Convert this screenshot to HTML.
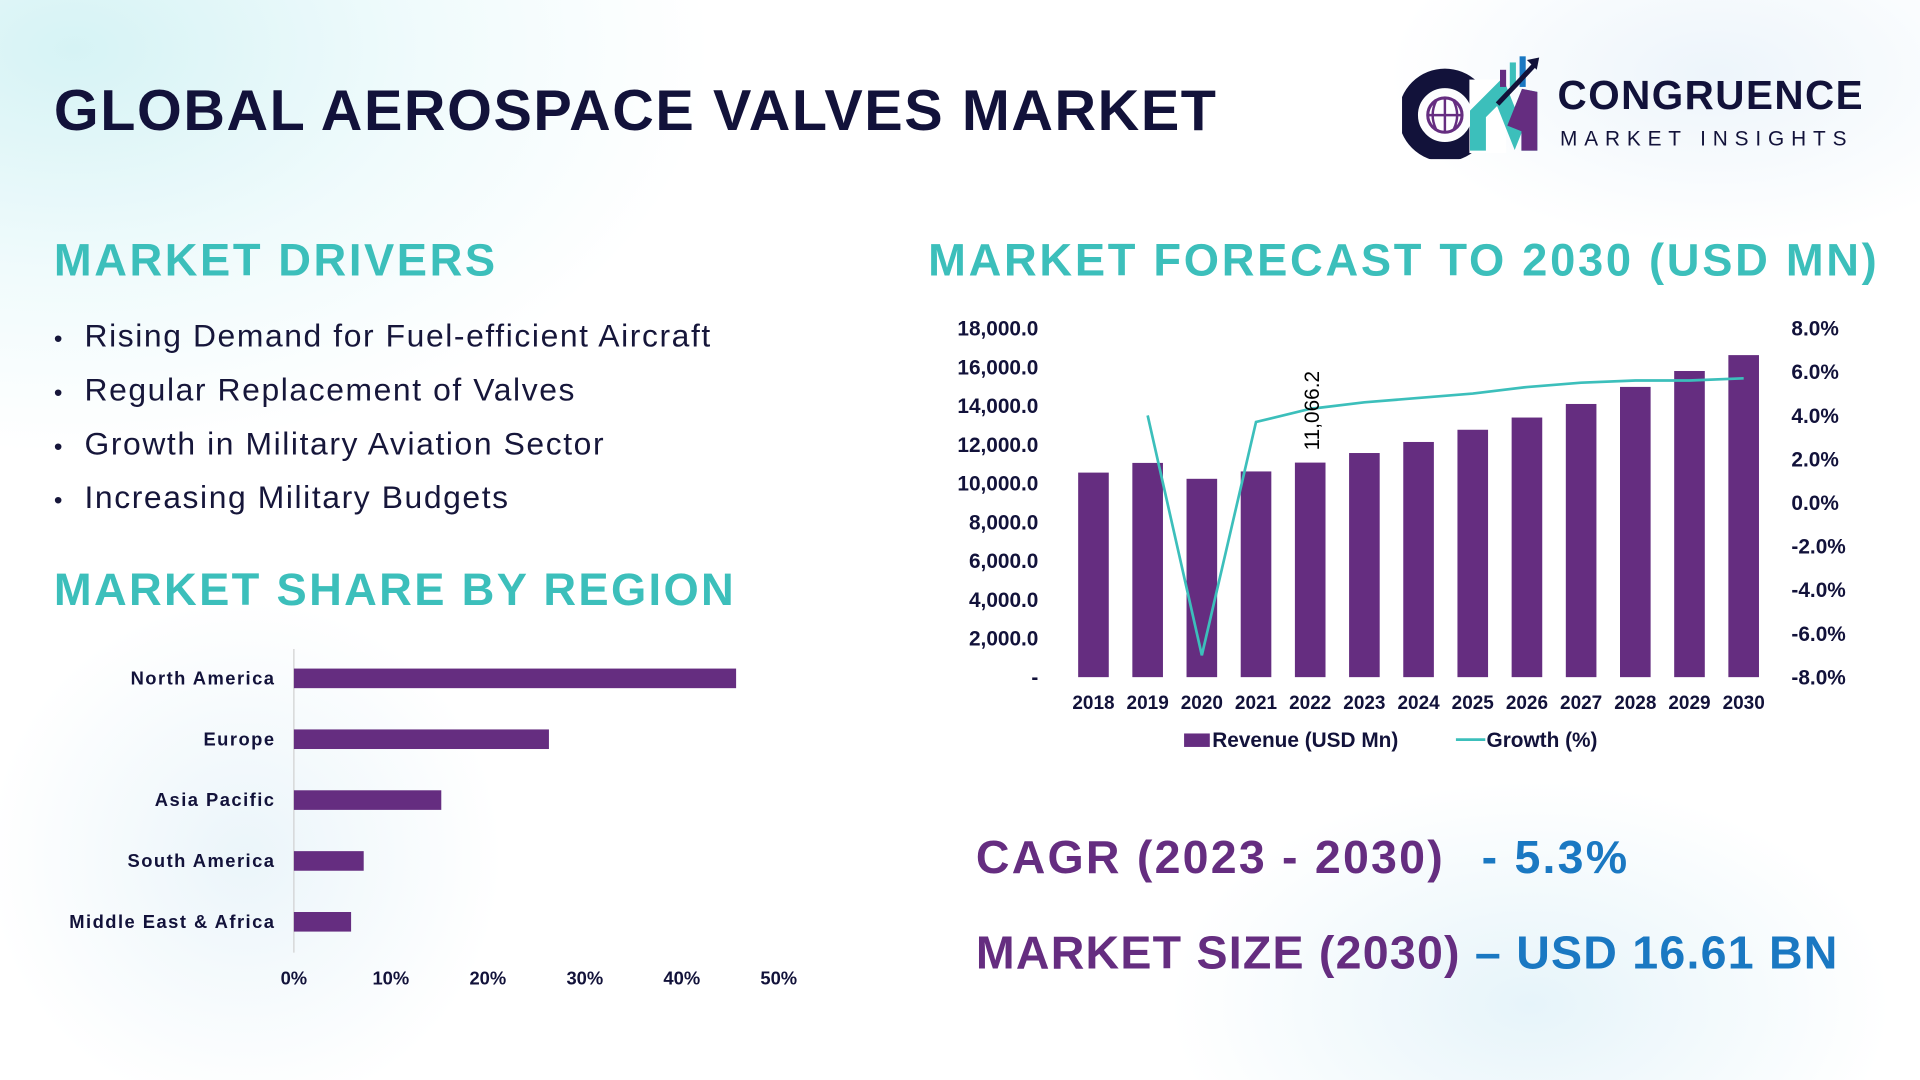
<!DOCTYPE html>
<html><head><meta charset="utf-8"><style>
html,body{margin:0;padding:0;width:1920px;height:1080px;overflow:hidden;background:#fff}
#wrap{position:absolute;left:0;top:0;width:1568px;height:882px;transform:scale(1.22449);transform-origin:0 0;font-family:"Liberation Sans",sans-serif;
background:radial-gradient(ellipse 520px 330px at 60px 40px,#d6f3f5 0%,rgba(230,248,250,0.6) 55%,rgba(255,255,255,0) 100%),
radial-gradient(ellipse 300px 300px at 200px 700px,rgba(215,235,245,0.5),rgba(255,255,255,0) 70%),
radial-gradient(ellipse 420px 260px at 1250px 820px,rgba(210,235,245,0.55),rgba(255,255,255,0) 70%),
radial-gradient(ellipse 380px 200px at 1400px 60px,rgba(225,238,248,0.6),rgba(255,255,255,0) 70%),#fff}
.abs{position:absolute}
h1{position:absolute;left:44px;top:62px;margin:0;font-size:47px;font-weight:900;color:#12123a;letter-spacing:1.3px}
.h2{position:absolute;margin:0;font-size:37px;font-weight:700;color:#3cbfbb;white-space:nowrap}
ul{position:absolute;left:44px;top:252px;margin:0;padding:0;list-style:none}
li{font-size:26px;color:#16163a;height:44px;line-height:44px;white-space:nowrap;letter-spacing:1.3px}
li:before{content:"•";display:inline-block;width:25px;font-size:20px}
.big{position:absolute;font-size:38px;font-weight:700;white-space:nowrap}
</style></head><body>
<div id="wrap">
<h1>GLOBAL AEROSPACE VALVES MARKET</h1>

<div class="abs" style="left:1145px;top:45px;width:380px;height:85px">
<svg width="130" height="85">
<circle cx="35" cy="49" r="30" fill="none" stroke="#12123a" stroke-width="16"/>
<rect x="55" y="20" width="30" height="60" fill="#fff"/>
<circle cx="35" cy="49" r="14" fill="none" stroke="#652d80" stroke-width="2.5"/>
<path d="M21 49h28M35 35v28M28 37q-6 12 0 24M42 37q6 12 0 24" stroke="#652d80" stroke-width="2" fill="none"/>
<path d="M62 78 L62 48 L80 30 L92 60 L104 30 L104 78" fill="none" stroke="#3cbfbb" stroke-width="13"/>
<path d="M92 60 L104 30 L104 78" fill="none" stroke="#652d80" stroke-width="13"/>
<rect x="80" y="12" width="5" height="14" fill="#652d80"/><rect x="88" y="6" width="5" height="20" fill="#3cbfbb"/><rect x="96" y="1" width="5" height="25" fill="#1a78c2"/>
<path d="M78 40 L95 22 L108 8" stroke="#12123a" stroke-width="4" fill="none"/><path d="M102 4 L112 2 L110 12 Z" fill="#12123a"/>
</svg>
<div class="abs" style="left:127px;top:14px;font-size:33px;font-weight:900;color:#12123a;letter-spacing:1.2px">CONGRUENCE</div>
<div class="abs" style="left:129px;top:59px;font-size:17px;letter-spacing:5.6px;color:#12123a">MARKET INSIGHTS</div>
</div>

<div class="h2" style="left:44px;top:192px;letter-spacing:2.1px">MARKET DRIVERS</div>
<ul>
<li>Rising Demand for Fuel-efficient Aircraft</li>
<li>Regular Replacement of Valves</li>
<li>Growth in Military Aviation Sector</li>
<li>Increasing Military Budgets</li>
</ul>
<div class="h2" style="left:44px;top:461px;letter-spacing:1.9px">MARKET SHARE BY REGION</div>
<div class="h2" style="left:758px;top:192px;letter-spacing:2.2px">MARKET FORECAST TO 2030 (USD MN)</div>

<svg id="reg" class="abs" style="left:0;top:0" width="700" height="882"></svg>
<svg id="fc" class="abs" style="left:0;top:0" width="1568" height="640"></svg>

<div class="big" style="left:797px;top:680px;color:#652d80;letter-spacing:1.8px">CAGR (2023 - 2030)<span style="display:inline-block;width:30px"></span><span style="color:#1a78c2">- 5.3%</span></div>
<div class="big" style="left:797px;top:758px;color:#652d80;letter-spacing:1px">MARKET SIZE (2030) <span style="color:#1a78c2">– USD 16.61 BN</span></div>
</div>
<script>
const regions=["North America","Europe","Asia Pacific","South America","Middle East & Africa"];
const shares=[45.6,26.3,15.2,7.2,5.9];
const shareTicks=[0,10,20,30,40,50];
const years=["2018","2019","2020","2021","2022","2023","2024","2025","2026","2027","2028","2029","2030"];
const revenue=[10550,11050,10230,10610,11066.2,11560,12130,12760,13390,14090,14970,15790,16610];
const growth=[null,4.0,-7.0,3.7,4.3,4.6,4.8,5.0,5.3,5.5,5.6,5.6,5.7];
const revTicks=[0,2000,4000,6000,8000,10000,12000,14000,16000,18000];
const growthTicks=[-8,-6,-4,-2,0,2,4,6,8];
const NS="http://www.w3.org/2000/svg";
function mk(p,t,a,txt){const e=document.createElementNS(NS,t);for(const k in a)e.setAttribute(k,a[k]);if(txt!=null)e.textContent=txt;p.appendChild(e);return e;}
// region chart
const reg=document.getElementById('reg');
const rx=v=>240+v*(636-240)/50, ry=i=>554+i*49.7;
mk(reg,'line',{x1:240,y1:530,x2:240,y2:778,stroke:'#d0d0d0','stroke-width':1});
regions.forEach((r,i)=>{
 const b=mk(reg,'rect',{x:rx(0),y:ry(i)-8,width:rx(shares[i])-rx(0),height:16,fill:'#652d80'});
 
 
 const t=mk(reg,'text',{x:225,y:ry(i)+5,'text-anchor':'end','font-size':15,'font-weight':'bold',fill:'#12123a','letter-spacing':1.2},r);
 
 
});
shareTicks.forEach(v=>{const t=mk(reg,'text',{x:rx(v),y:804,'text-anchor':'middle','font-size':15,'font-weight':'bold',fill:'#12123a'},v+'%');
 
 });
// forecast chart
const fc=document.getElementById('fc');
const y0=553,yTop=268;
const yL=v=>y0-v*(y0-yTop)/18000, yR=v=>y0-(v+8)*(y0-yTop)/16, xc=i=>893+i*44.25;
revTicks.forEach(v=>{const t=mk(fc,'text',{x:848,y:yL(v)+6,'text-anchor':'end','font-size':17,'font-weight':'bold',fill:'#12123a'},v===0?'-':v.toLocaleString('en-US',{minimumFractionDigits:1}));
 
 });
growthTicks.forEach(v=>{const t=mk(fc,'text',{x:1463,y:yR(v)+6,'font-size':17,'font-weight':'bold',fill:'#12123a'},v.toFixed(1)+'%');
 
 });
years.forEach((y,i)=>{
 const b=mk(fc,'rect',{x:xc(i)-12.5,y:yL(revenue[i]),width:25,height:y0-yL(revenue[i]),fill:'#652d80'});
 
 
 const t=mk(fc,'text',{x:xc(i),y:579,'text-anchor':'middle','font-size':15.5,'font-weight':'bold',fill:'#12123a'},y);
 
 
});
let pts=[];growth.forEach((g,i)=>{if(g!=null)pts.push(xc(i)+','+yR(g));});
const ln=mk(fc,'polyline',{points:pts.join(' '),fill:'none',stroke:'#3cbfbb','stroke-width':2.2});


const lbl=mk(fc,'text',{transform:`translate(${xc(4)+7},${yL(revenue[4])-10}) rotate(-90)`,'font-size':17,fill:'#000'},revenue[4].toLocaleString('en-US',{minimumFractionDigits:1}));


const lg1=mk(fc,'rect',{x:967,y:599,width:21,height:11,fill:'#652d80'});


const lt1=mk(fc,'text',{x:990,y:610,'font-size':17,'font-weight':'bold',fill:'#12123a'},'Revenue (USD Mn)');


const lg2=mk(fc,'line',{x1:1189,y1:604,x2:1213,y2:604,stroke:'#3cbfbb','stroke-width':2.2});


const lt2=mk(fc,'text',{x:1214,y:610,'font-size':17,'font-weight':'bold',fill:'#12123a'},'Growth (%)');


</script>
</body></html>
